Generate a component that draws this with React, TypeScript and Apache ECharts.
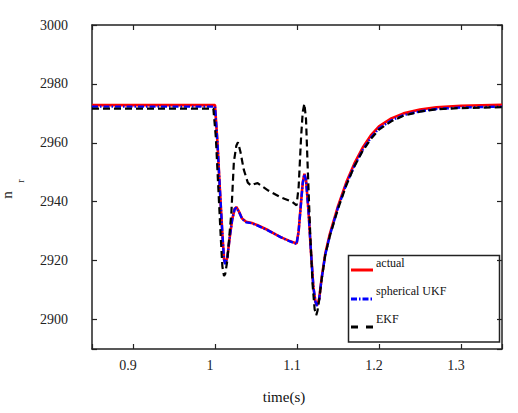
import React, { useEffect, useRef } from "react";
import * as echarts from "echarts";

const actualT = [0.85, 1.0, 1.003, 1.006, 1.009, 1.011, 1.0125, 1.015, 1.018, 1.021, 1.024, 1.026, 1.029, 1.033, 1.038, 1.045, 1.052, 1.065, 1.08, 1.09, 1.0995, 1.102, 1.105, 1.107, 1.109, 1.111, 1.114, 1.117, 1.12, 1.1225, 1.1245, 1.127, 1.13, 1.1345, 1.14, 1.15, 1.16, 1.17, 1.18, 1.19, 1.2, 1.215, 1.23, 1.25, 1.27, 1.3, 1.35];
const actualV = [2972.8, 2972.8, 2960, 2944, 2929, 2920.5, 2919, 2921, 2928, 2934, 2937.6, 2938.2, 2936.8, 2934.3, 2933.2, 2932.8, 2932, 2930.3, 2928, 2926.8, 2925.8, 2930, 2940, 2946.5, 2949.5, 2947.5, 2937, 2923, 2911, 2906, 2904.8, 2907, 2914, 2922.4, 2929, 2938.5, 2946.5, 2953, 2958.3, 2962.5, 2965.6, 2968.3, 2970, 2971.3, 2972.1, 2972.6, 2972.9];
const ukfV = [2972.3, 2972.3, 2960, 2944, 2929, 2920.3, 2918.8, 2921, 2928, 2934, 2937.5, 2938, 2936.7, 2934.2, 2933, 2932.7, 2931.9, 2930.2, 2928, 2926.7, 2925.6, 2930, 2940, 2946.3, 2949.3, 2947.3, 2937, 2923, 2911, 2906, 2904.6, 2906.8, 2913.8, 2922, 2928.5, 2938, 2945.8, 2952.2, 2957.5, 2961.7, 2964.9, 2967.6, 2969.4, 2970.7, 2971.5, 2972, 2972.3];
const ekfT = [0.85, 0.998, 1.001, 1.004, 1.007, 1.009, 1.011, 1.0125, 1.015, 1.018, 1.02, 1.023, 1.026, 1.028, 1.031, 1.035, 1.04, 1.044, 1.048, 1.052, 1.065, 1.08, 1.094, 1.0995, 1.102, 1.105, 1.107, 1.109, 1.111, 1.113, 1.116, 1.119, 1.1215, 1.1235, 1.125, 1.127, 1.13, 1.1345, 1.14, 1.15, 1.16, 1.17, 1.18, 1.19, 1.2, 1.215, 1.23, 1.25, 1.27, 1.3, 1.35];
const ekfV = [2971.6, 2971.6, 2962, 2945, 2928, 2918, 2914.8, 2915.5, 2920, 2930, 2936.5, 2953.5, 2959, 2960.2, 2957, 2951, 2946.5, 2945.5, 2946, 2946.3, 2943.8, 2941.5, 2940, 2938.8, 2945, 2962, 2970.5, 2973.3, 2968, 2952, 2930, 2912, 2903.5, 2901.5, 2903, 2906.5, 2913.5, 2922, 2928.3, 2937.6, 2945.5, 2952, 2957.2, 2961.3, 2964.5, 2967.3, 2969.2, 2970.6, 2971.4, 2971.8, 2972.1];

const seriesNames = ["actual", "spherical UKF", "EKF"];
const xRange = [0.85, 1.35];
const yRange = [2890, 3000];

const FONT = "'Liberation Serif', 'DejaVu Serif', serif";
const AX = "#222";

const zip = (a: number[], b: number[]) => a.map((t, i) => [t, b[i]]);

export default function App() {
  const ref = useRef<HTMLDivElement>(null);
  useEffect(() => {
    const chart = echarts.init(ref.current!, null, { renderer: "svg" });
    const axisCommon = {
      type: "value" as const,
      splitLine: { show: false },
      axisLine: { show: true, onZero: false, lineStyle: { color: AX, width: 1.5 } },
      axisTick: { show: true, inside: true, length: 5, lineStyle: { color: AX, width: 1.2 } },
    };
    chart.setOption({
      animation: false,
      backgroundColor: "#fff",
      textStyle: { fontFamily: FONT },
      grid: { left: 92, top: 25, right: 16, bottom: 64 },
      xAxis: [
        {
          ...axisCommon,
          min: xRange[0],
          max: xRange[1],
          position: "bottom",
          name: "time(s)",
          nameLocation: "middle",
          nameGap: 40,
          nameTextStyle: { fontFamily: FONT, fontSize: 15, color: "#111", padding: [0, 26, 0, 0] },
          axisLabel: {
            fontFamily: FONT,
            fontSize: 14,
            color: "#222",
            margin: 9,
            padding: [0, 10, 0, 0],
            formatter: (v: number) =>
              Math.abs(v * 10 - Math.round(v * 10)) < 1e-6 ? String(Math.round(v * 10) / 10) : "",
          },
        },
        {
          ...axisCommon,
          min: xRange[0],
          max: xRange[1],
          position: "top",
          axisLabel: { show: false },
        },
      ],
      yAxis: [
        {
          ...axisCommon,
          min: yRange[0],
          max: yRange[1],
          position: "left",
          axisLabel: {
            fontFamily: FONT,
            fontSize: 14,
            color: "#222",
            margin: 24,
            padding: [0, 0, 16, 0],
            formatter: (v: number) => (Math.round(v) % 20 === 0 ? String(Math.round(v)) : ""),
          },
        },
        {
          ...axisCommon,
          min: yRange[0],
          max: yRange[1],
          position: "right",
          axisLabel: { show: false },
        },
      ],
      series: [
        {
          name: seriesNames[0],
          type: "line",
          data: zip(actualT, actualV),
          showSymbol: false,
          lineStyle: { color: "#ff0000", width: 2.6 },
          z: 2,
        },
        {
          name: seriesNames[1],
          type: "line",
          data: zip(actualT, ukfV),
          showSymbol: false,
          lineStyle: { color: "#0000ff", width: 2.4, type: [6, 2, 1.5, 2] },
          z: 3,
        },
        {
          name: seriesNames[2],
          type: "line",
          data: zip(ekfT, ekfV),
          showSymbol: false,
          lineStyle: { color: "#000", width: 2.2, type: [7, 4] },
          z: 4,
        },
      ],
      graphic: [
        {
          type: "text",
          x: 7,
          y: 195,
          rotation: Math.PI / 2,
          style: { text: "n", fontFamily: FONT, fontSize: 15, fill: "#222", align: "center", verticalAlign: "middle" },
        },
        {
          type: "text",
          x: 20,
          y: 181,
          rotation: Math.PI / 2,
          style: { text: "r", fontFamily: FONT, fontSize: 10, fill: "#222", align: "center", verticalAlign: "middle" },
        },
        {
          type: "group",
          z: 100,
          children: [
            {
              type: "rect",
              shape: { x: 348.5, y: 255.5, width: 151, height: 86.5 },
              style: { fill: "#fff", stroke: AX, lineWidth: 1.5 },
            },
            {
              type: "line",
              shape: { x1: 351, y1: 270, x2: 373, y2: 270 },
              style: { stroke: "#ff0000", lineWidth: 3 },
            },
            {
              type: "line",
              shape: { x1: 351, y1: 299, x2: 373, y2: 299 },
              style: { stroke: "#0000ff", lineWidth: 3, lineDash: [6, 2, 1.5, 2] },
            },
            {
              type: "line",
              shape: { x1: 351, y1: 327, x2: 373, y2: 327 },
              style: { stroke: "#000", lineWidth: 3, lineDash: [7, 8] },
            },
            {
              type: "text",
              x: 376,
              y: 263,
              style: { text: seriesNames[0], fontFamily: FONT, fontSize: 12, fill: "#111", verticalAlign: "middle" },
            },
            {
              type: "text",
              x: 376,
              y: 291,
              style: { text: seriesNames[1], fontFamily: FONT, fontSize: 12, fill: "#111", verticalAlign: "middle" },
            },
            {
              type: "text",
              x: 376,
              y: 319,
              style: { text: seriesNames[2], fontFamily: FONT, fontSize: 12, fill: "#111", verticalAlign: "middle" },
            },
          ],
        },
      ],
    });
    return () => chart.dispose();
  }, []);
  return <div ref={ref} style={{ width: 518, height: 413, position: "absolute", left: 0, top: 0 }} />;
}
